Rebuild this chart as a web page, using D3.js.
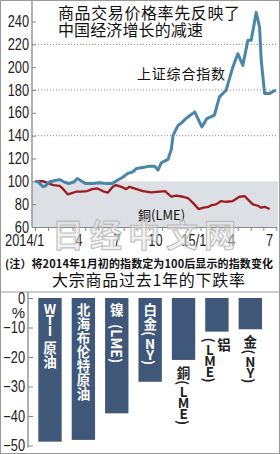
<!DOCTYPE html>
<html>
<head>
<meta charset="utf-8">
<script src="https://cdn.jsdelivr.net/npm/d3@7"></script>
<style>
  html, body { margin: 0; padding: 0; background: #fff; }
  svg { display: block; }
</style>
</head>
<body>
<div id="chart"></div>
<script>
// Shanghai composite vs copper, indexed to 100 at start of Jan 2014
const sseDates = ["2014-01-01","2014-01-08","2014-01-20","2014-01-26","2014-02-05","2014-02-21","2014-03-01","2014-03-11","2014-03-23","2014-04-05","2014-04-12","2014-04-21","2014-05-02","2014-05-18","2014-06-04","2014-06-20","2014-07-05","2014-07-17","2014-07-29","2014-08-11","2014-08-23","2014-09-01","2014-09-16","2014-10-02","2014-10-14","2014-10-22","2014-10-30","2014-11-15","2014-11-23","2014-11-27","2014-12-09","2014-12-17","2014-12-28","2015-01-18","2015-02-04","2015-02-16","2015-03-06","2015-03-18","2015-04-03","2015-04-19","2015-05-01","2015-05-13","2015-05-25","2015-06-02","2015-06-14","2015-06-22","2015-06-26","2015-07-04","2015-07-16","2015-07-31"];
const sseValues = [100,99.6,95.2,96,99.6,101,101.5,99.6,98,99.6,102.5,100.5,98,98,98.7,98,98.2,101,103.4,107,108.3,111.3,112.2,113.3,113.3,109.8,116.2,119.2,128,140,149,151,155,160.8,147.7,155,158,174,179.8,200,211.8,201.6,223.5,223.5,248,235,206,177,177,180];

const copperDates = ["2014-01-01","2014-01-20","2014-02-02","2014-02-14","2014-03-01","2014-03-08","2014-03-20","2014-03-28","2014-04-09","2014-04-21","2014-05-06","2014-05-18","2014-05-30","2014-06-12","2014-06-24","2014-07-06","2014-07-14","2014-07-26","2014-08-07","2014-08-15","2014-09-01","2014-09-16","2014-10-06","2014-10-26","2014-11-08","2014-11-23","2014-12-05","2014-12-21","2015-01-03","2015-01-15","2015-01-27","2015-02-08","2015-02-20","2015-02-28","2015-03-10","2015-03-22","2015-04-03","2015-04-19","2015-05-05","2015-05-17","2015-05-29","2015-06-06","2015-06-18","2015-06-26","2015-07-04","2015-07-16"];
const copperValues = [100,100.2,98.2,96.7,96.1,93.8,88.6,89.5,90.9,90.9,91.5,93.2,93.8,91.5,90,95.2,96.7,95.2,93.2,95.2,93.2,91.5,90.3,91,91.5,86.5,87.4,86.5,85,80.7,75.7,76.9,77.7,79.2,79.8,82.7,82.1,82.7,86.5,87.1,82.7,79.8,78.6,76.9,77.7,75.7];

const lineTicks = [60, 80, 100, 120, 140, 160, 180, 200, 220, 240];
const gridTicks = [140, 180, 220];
const monthLabelDates = ["2014-01-16","2014-04-16","2014-07-16","2014-10-16","2015-01-16","2015-04-16","2015-07-16"];
const monthLabels = ["2014/1","4","7","10","15/1","4","7"];

// One-year decline of commodities (%)
const commodities = ["WTI 原油","北海布伦特原油","镍|(LME)","白金(NY)","銅(LME)","铝\n(LME)","金(NY)"];
const declines = [-48.7, -48.1, -39.1, -28.4, -21.0, -11.4, -10.6];
const barTicks = [0, -10, -20, -30, -40, -50];

const W = 280, H = 454;
const CJK = '"Noto Sans CJK SC", "Noto Sans", sans-serif';
const NUM = '"Liberation Sans", Arial, sans-serif';

const parse = d3.timeParse('%Y-%m-%d');
const sse = sseDates.map((d, i) => ({ date: parse(d), value: sseValues[i] }));
const copper = copperDates.map((d, i) => ({ date: parse(d), value: copperValues[i] }));

// squeeze numbers to look like a condensed face
function narrow(sel, k = 0.8) {
  sel.each(function () {
    const len = this.getComputedTextLength();
    d3.select(this).attr('textLength', len * k).attr('lengthAdjust', 'spacingAndGlyphs');
  });
}

const svg = d3.select('#chart').append('svg')
  .attr('width', W).attr('height', H);

svg.append('rect').attr('width', W).attr('height', H).attr('fill', '#fff');

// ---- top: line chart ----
const axisX = 32, plotRight = 278, plotBottom = 227;

const x = d3.scaleTime()
  .domain([parse('2014-01-01'), parse('2015-08-01')])
  .range([35, 276.3]);

const y = d3.scaleLinear()
  .domain([60, 240])
  .range([plotBottom, 21.5]);

// shaded band below 100
svg.append('rect')
  .attr('x', axisX).attr('y', y(100))
  .attr('width', plotRight - axisX).attr('height', y(60) - y(100))
  .attr('fill', '#dcdfe3');

svg.append('g').selectAll('line').data(gridTicks).join('line')
  .attr('x1', axisX).attr('x2', plotRight)
  .attr('y1', d => y(d)).attr('y2', d => y(d))
  .attr('stroke', '#8a8a8a').attr('stroke-width', 1)
  .attr('stroke-dasharray', '1,2');

const yAxis = svg.append('g')
  .attr('transform', `translate(${axisX},0)`)
  .call(d3.axisLeft(y).tickValues(lineTicks).tickSize(-4).tickSizeOuter(0).tickPadding(3));
yAxis.select('.domain').remove();
yAxis.selectAll('line').attr('stroke', '#888');
yAxis.selectAll('text').attr('font-family', NUM).attr('font-size', 16).attr('fill', '#222');
narrow(yAxis.selectAll('text'));

svg.append('line')
  .attr('x1', axisX).attr('x2', axisX).attr('y1', 0).attr('y2', plotBottom)
  .attr('stroke', '#888').attr('stroke-width', 1.3);

const xAxis = svg.append('g')
  .attr('transform', `translate(0,${plotBottom})`)
  .call(d3.axisBottom(x).ticks(d3.timeMonth.every(1)).tickSize(4).tickSizeOuter(0).tickFormat(''));
xAxis.select('.domain').attr('stroke', '#888');
xAxis.selectAll('line').attr('stroke', '#888');

const xLabels = svg.append('g').selectAll('text').data(monthLabelDates).join('text')
  .attr('x', (d, i) => i === 0 ? x(parse(d)) + 3 : x(parse(d)))
  .attr('y', 246)
  .attr('text-anchor', (d, i) => i === 0 ? 'end' : 'middle')
  .attr('font-family', NUM).attr('font-size', 16).attr('fill', '#222')
  .text((d, i) => monthLabels[i]);
narrow(xLabels);

const line = d3.line()
  .x(d => x(d.date))
  .y(d => y(d.value));

svg.append('path').datum(copper)
  .attr('fill', 'none').attr('stroke', '#9c1b1e').attr('stroke-width', 2.3)
  .attr('stroke-linejoin', 'round').attr('d', line);

svg.append('path').datum(sse)
  .attr('fill', 'none').attr('stroke', '#4a86aa').attr('stroke-width', 3)
  .attr('stroke-linejoin', 'round').attr('d', line);

// titles and series labels
svg.append('text').attr('x', 58).attr('y', 19)
  .attr('font-family', CJK).attr('font-size', 16).attr('fill', '#111')
  .attr('textLength', 182).attr('lengthAdjust', 'spacing')
  .text('商品交易价格率先反映了');
svg.append('text').attr('x', 58).attr('y', 36)
  .attr('font-family', CJK).attr('font-size', 16).attr('fill', '#111')
  .attr('textLength', 145).attr('lengthAdjust', 'spacing')
  .text('中国经济增长的减速');
svg.append('text').attr('x', 137).attr('y', 79)
  .attr('font-family', CJK).attr('font-size', 14).attr('fill', '#111')
  .attr('textLength', 88).attr('lengthAdjust', 'spacing')
  .text('上证综合指数');
svg.append('text').attr('x', 138).attr('y', 220)
  .attr('font-family', CJK).attr('font-size', 13).attr('fill', '#111')
  .text('銅(LME)');

svg.append('text').attr('x', 5).attr('y', 268)
  .attr('font-family', CJK).attr('font-size', 11).attr('font-weight', 'bold').attr('fill', '#111')
  .attr('textLength', 268).attr('lengthAdjust', 'spacing')
  .text('(注）将2014年1月初的指数定为100后显示的指数变化');

// ---- bottom: bar chart ----
svg.append('line').attr('x1', 0).attr('x2', W).attr('y1', 292).attr('y2', 292)
  .attr('stroke', '#999');

svg.append('text').attr('x', 52).attr('y', 286)
  .attr('font-family', CJK).attr('font-size', 16).attr('fill', '#111')
  .attr('textLength', 193).attr('lengthAdjust', 'spacing')
  .text('大宗商品过去1年的下跌率');

const bx = d3.scaleBand()
  .domain(commodities)
  .range([33.3, 267])
  .paddingInner(0.3)
  .paddingOuter(0.15);

const by = d3.scaleLinear()
  .domain([-50, 0])
  .range([445.5, 298]);

const barAxis = svg.append('g')
  .attr('transform', 'translate(28,0)')
  .call(d3.axisLeft(by).tickValues(barTicks).tickSize(-5).tickSizeOuter(0).tickPadding(3));
barAxis.select('.domain').remove();
barAxis.selectAll('line').attr('stroke', '#888');
barAxis.selectAll('text').attr('font-family', NUM).attr('font-size', 16).attr('fill', '#222');
narrow(barAxis.selectAll('text'));
svg.append('line').attr('x1', 28).attr('x2', 28).attr('y1', 292).attr('y2', by(-50) + 2)
  .attr('stroke', '#888').attr('stroke-width', 1.3);
svg.append('text').attr('x', 25).attr('y', by(-5) + 5).attr('text-anchor', 'end')
  .attr('font-family', NUM).attr('font-size', 15).attr('fill', '#222').text('%');

svg.append('g').selectAll('rect').data(commodities).join('rect')
  .attr('x', d => bx(d))
  .attr('y', by(0))
  .attr('width', bx.bandwidth())
  .attr('height', (d, i) => by(declines[i]) - by(0))
  .attr('fill', '#3f5879');

// stacked vertical labels, one glyph per step
function verticalLabel(g, text, cx, top, color) {
  const cols = text.split('\n');
  cols.forEach((col, ci) => {
    const colX = cx + (cols.length - 1) * 7 - ci * 14;
    let yy = top;
    const parts = col.split('|');
    parts.forEach((part, pi) => {
      if (pi > 0) {
        // sideways run
        const t = g.append('text')
          .attr('font-family', CJK).attr('font-size', 14).attr('font-weight', 'bold')
          .attr('fill', color).attr('dominant-baseline', 'central')
          .text(part);
        const len = t.node().getComputedTextLength();
        t.attr('transform', `translate(${colX},${yy + 8}) rotate(90)`);
        yy += len + 8;
        return;
      }
      Array.from(part).forEach(ch => {
        let adv = 14;
        if (ch === ' ') { yy += 5; return; }
        if (ch === '(' || ch === ')') adv = 7;
        else if (/[A-Za-z]/.test(ch)) adv = 11;
        const t = g.append('text')
          .attr('font-family', CJK).attr('font-size', 13.5).attr('font-weight', 'bold')
          .attr('fill', color).attr('text-anchor', 'middle').attr('dominant-baseline', 'central')
          .text(ch);
        if (adv === 7) t.attr('transform', `translate(${colX},${yy + adv / 2}) rotate(90)`);
        else t.attr('x', colX).attr('y', yy + adv / 2);
        yy += adv;
      });
    });
  });
}

const labelG = svg.append('g');
commodities.forEach((name, i) => {
  const cx = bx(name) + bx.bandwidth() / 2;
  const inside = declines[i] < -25;
  const top = inside ? by(0) + 4 : by(declines[i]) + 5;
  verticalLabel(labelG, name, cx, top, inside ? '#fff' : '#222');
});

// watermark
svg.append('text').attr('x', 52).attr('y', 247)
  .attr('font-family', CJK).attr('font-size', 32).attr('font-weight', 'bold')
  .attr('letter-spacing', 6)
  .attr('fill', '#e6e6e6').attr('fill-opacity', 0.5)
  .attr('stroke', '#b4b4b4').attr('stroke-width', 1.2).attr('stroke-opacity', 0.8)
  .text('日经中文网');

svg.append('rect').attr('x', 0.5).attr('y', 0.5).attr('width', W - 1).attr('height', H - 1)
  .attr('fill', 'none').attr('stroke', '#999');
</script>
</body>
</html>
